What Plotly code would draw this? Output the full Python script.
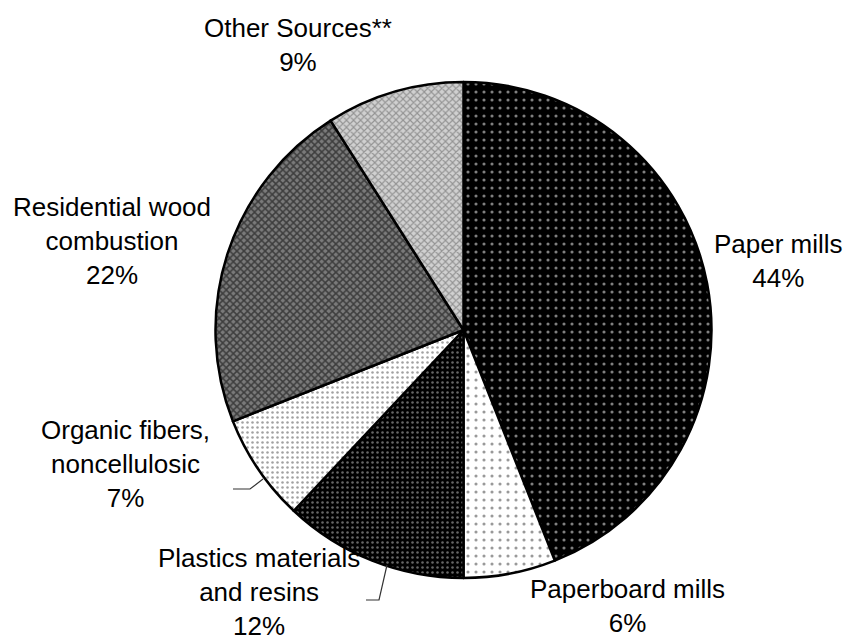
import plotly.graph_objects as go

categories = ["Paper mills", "Paperboard mills", "Plastics materials and resins",
              "Organic fibers, noncellulosic", "Residential wood combustion", "Other Sources**"]
values = [44, 6, 12, 7, 22, 9]
label_texts = ["Paper mills<br>44%", "Paperboard mills<br>6%", "Plastics materials<br>and resins<br>12%",
               "Organic fibers,<br>noncellulosic<br>7%", "Residential wood<br>combustion<br>22%",
               "Other Sources**<br>9%"]

W, H = 848, 641
cx, cy, r = 463.5, 330, 248


def px(x):
    return x / W


def py(y):
    return 1 - y / H


patterns = [
    dict(shape=".", fgcolor="white", bgcolor="black", size=8, solidity=0.12),
    dict(shape=".", fgcolor="#333", bgcolor="white", size=8, solidity=0.12),
    dict(shape=".", fgcolor="#ccc", bgcolor="black", size=5, solidity=0.2),
    dict(shape=".", fgcolor="#444", bgcolor="white", size=5, solidity=0.2),
    dict(shape="x", fgcolor="black", bgcolor="#7a7a7a", size=5, solidity=0.5),
    dict(shape="x", fgcolor="#555", bgcolor="#d0d0d0", size=5, solidity=0.4),
]

fig = go.Figure(go.Pie(
    labels=categories, values=values, sort=False, direction="clockwise", rotation=0,
    textinfo="none", hoverinfo="label+percent",
    marker=dict(colors=[p["bgcolor"] for p in patterns],
                line=dict(color="black", width=2.5),
                pattern=dict(shape=[p["shape"] for p in patterns],
                             fgcolor=[p["fgcolor"] for p in patterns],
                             bgcolor=[p["bgcolor"] for p in patterns],
                             size=[p["size"] for p in patterns],
                             solidity=[p["solidity"] for p in patterns],
                             fillmode="overlay")),
    domain=dict(x=[px(cx - r), px(cx + r)], y=[py(cy + r), py(cy - r)]),
    showlegend=False,
))

label_pos = [(778, 261), (627, 606), (259, 592), (125, 464), (112, 241), (298, 45)]
anns = []
for txt, (x, y) in zip(label_texts, label_pos):
    anns.append(dict(text=txt, x=px(x), y=py(y), xref="paper", yref="paper",
                     showarrow=False, xanchor="center", yanchor="middle", align="center",
                     font=dict(family="Liberation Sans, Arial, sans-serif", size=26, color="black")))


def path(pts):
    return "M " + " L ".join(f"{px(x)},{py(y)}" for x, y in pts)


leaders = [[(233, 489), (250, 489), (263, 479)], [(366, 600), (379, 600), (387, 565)]]
shapes = [dict(type="path", path=path(p), xref="paper", yref="paper",
               line=dict(color="#333", width=1.2)) for p in leaders]

fig.update_layout(width=W, height=H, margin=dict(l=0, r=0, t=0, b=0),
                  paper_bgcolor="white", plot_bgcolor="white",
                  annotations=anns, shapes=shapes)
fig.write_html("out.html", config={"displayModeBar": False},
               post_script="document.body.style.margin='0';document.body.style.overflow='hidden';")
